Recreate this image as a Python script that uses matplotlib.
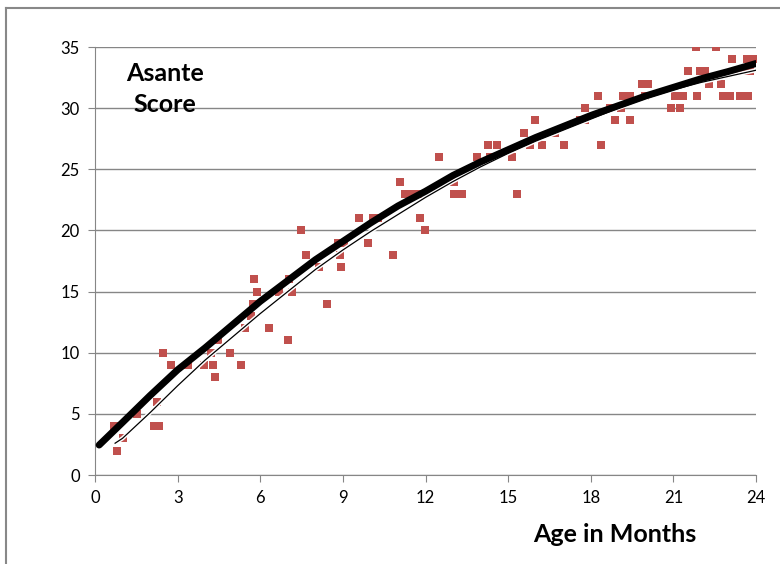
import matplotlib
matplotlib.use('Agg')
import matplotlib.pyplot as plt
import matplotlib.patheffects as pe
from matplotlib.lines import Line2D

# scatter: age in months, Asante score
age = [0.68, 0.81, 1.03, 1.51, 2.14, 2.24, 2.33, 2.48, 2.76, 3.36, 3.95, 4.21,
       4.27, 4.36, 4.48, 4.90, 5.29, 5.45, 5.66, 5.75, 5.77, 5.87, 6.31, 6.68,
       6.99, 7.03, 7.14, 7.47, 7.66, 8.12, 8.42, 8.81, 8.90, 8.92, 9.04, 9.59,
       9.90, 10.10, 10.29, 10.83, 11.07, 11.26, 11.44, 11.74, 11.80, 11.99, 12.50,
       13.04, 13.04, 13.31, 13.86, 14.28, 14.34, 14.58, 15.13, 15.31, 15.59, 15.79,
       15.98, 16.24, 16.72, 17.02, 17.61, 17.79, 17.79, 18.28, 18.37, 18.70,
       18.88, 19.09, 19.18, 19.43, 19.43, 19.85, 19.97, 20.09, 20.91, 21.06,
       21.24, 21.36, 21.54, 21.81, 21.87, 21.97, 22.15, 22.29, 22.54, 22.72,
       22.81, 23.06, 23.12, 23.30, 23.42, 23.54, 23.66, 23.72, 23.78, 23.88]
score = [4, 2, 3, 5, 4, 6, 4, 10, 9, 9, 9, 10,
         9, 8, 11, 10, 9, 12, 13, 14, 16, 15, 12, 15,
         11, 16, 15, 20, 18, 17, 14, 19, 18, 17, 19, 21,
         19, 21, 21, 18, 24, 23, 23, 23, 21, 20, 26,
         24, 23, 23, 26, 27, 26, 27, 26, 23, 28, 27,
         29, 27, 28, 27, 29, 30, 29, 31, 27, 30,
         29, 30, 31, 29, 31, 32, 31, 32, 30, 31,
         30, 31, 33, 35, 31, 33, 33, 32, 35, 32,
         31, 31, 34, 33, 31, 33, 34, 31, 33, 34]

# fitted curves
fit_age = [0.15, 1, 2, 3, 4, 5, 6, 7, 8, 9, 10, 11, 12, 13, 14, 15, 16, 17,
           18, 19, 20, 21, 22, 23, 24]
fit_thick = [2.45, 4.3, 6.5, 8.6, 10.4, 12.3, 14.2, 15.9, 17.6, 19.1, 20.6, 22.0,
             23.2, 24.5, 25.6, 26.6, 27.6, 28.5, 29.4, 30.2, 31.0, 31.7, 32.4,
             33.0, 33.65]
thin_age = [0.73, 1, 2, 3, 4, 5, 6, 7, 8, 9, 10, 11, 12, 13, 14, 15, 16, 17,
            18, 19, 20, 21, 22, 23, 24]
fit_thin = [2.6, 3.0, 5.1, 7.3, 9.4, 11.3, 13.2, 15.0, 16.8, 18.4, 19.9, 21.3,
            22.7, 24.0, 25.2, 26.3, 27.3, 28.2, 29.1, 30.0, 30.8, 31.5, 32.1,
            32.6, 33.1]

x_ticks = [0, 3, 6, 9, 12, 15, 18, 21, 24]
y_ticks = [0, 5, 10, 15, 20, 25, 30, 35]

plt.rcParams['font.family'] = ['Lato', 'DejaVu Sans']

fig = plt.figure(figsize=(7.8, 5.64), dpi=100)
ax = fig.add_axes([95 / 780, 89 / 564, 661 / 780, 428 / 564])

# outer chart frame
fig.add_artist(Line2D([6 / 780, 1.0], [1 - 8 / 564, 1 - 8 / 564],
                      color='#888888', lw=1.5, transform=fig.transFigure))
fig.add_artist(Line2D([6 / 780, 6 / 780], [0, 1 - 8 / 564],
                      color='#888888', lw=1.5, transform=fig.transFigure))

ax.scatter(age, score, marker='s', s=30, color='#C0504D', linewidths=0, zorder=3)
ax.plot(fit_age, fit_thick, color='black', lw=5, solid_capstyle='round', zorder=5)
ax.plot(thin_age, fit_thin, color='black', lw=0.9, zorder=4,
        path_effects=[pe.Stroke(linewidth=3, foreground='white'), pe.Normal()])

ax.set_xlim(0, 24)
ax.set_ylim(0, 35)
ax.set_xticks(x_ticks)
ax.set_yticks(y_ticks)
ax.yaxis.grid(True, color='#868686', lw=1)
ax.set_axisbelow(True)

for side in ['top', 'right']:
    ax.spines[side].set_visible(False)
for side in ['left', 'bottom']:
    ax.spines[side].set_color('#868686')
ax.tick_params(axis='both', direction='out', length=5, color='#868686',
               labelsize=12, labelcolor='black', pad=6)

fig.text(165 / 780, 1 - 89 / 564, 'Asante\nScore', fontsize=18, fontweight='bold',
         ha='center', va='center', linespacing=1.45)
fig.text(615 / 780, 1 - 535 / 564, 'Age in Months', fontsize=18,
         fontweight='bold', ha='center', va='center')

fig.savefig('out.png', dpi=100)
